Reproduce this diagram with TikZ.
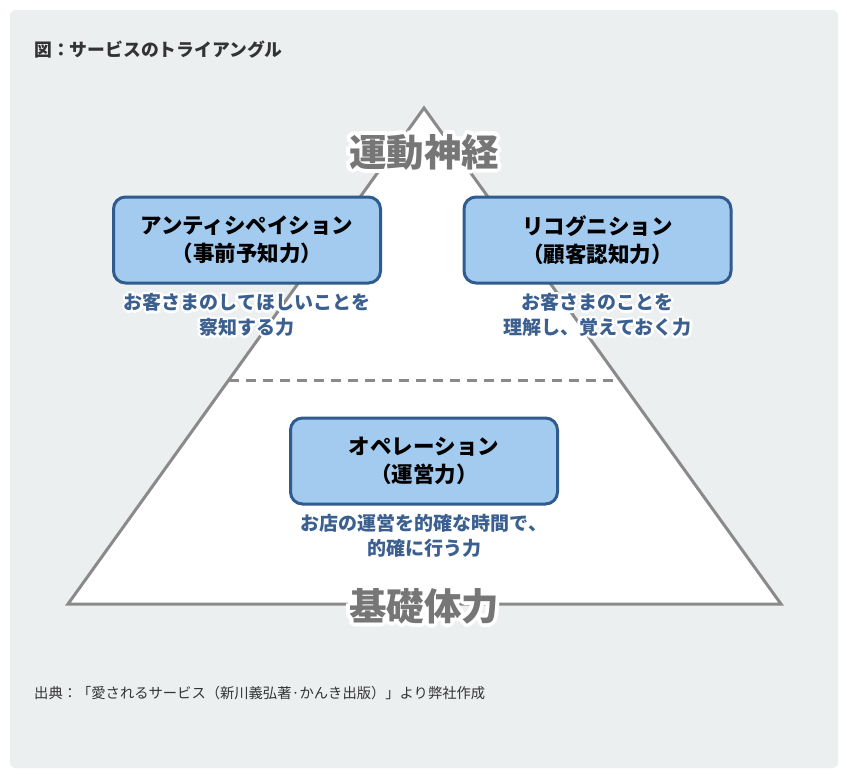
\documentclass[tikz,border=0pt]{standalone}
\usepackage{fontspec}
\setmainfont{Noto Sans CJK JP}
\usetikzlibrary{calc}
\definecolor{panel}{HTML}{ECEFF0}
\definecolor{edge}{HTML}{8A8A8A}
\definecolor{bigtxt}{HTML}{767676}
\definecolor{boxfill}{HTML}{A3CBF0}
\definecolor{boxline}{HTML}{2F5B8E}
\definecolor{desc}{HTML}{3B5F8F}
\definecolor{ink}{HTML}{333333}
\newcommand{\halotext}[5]{% #1 name, #2 position, #3 style, #4 halo radius, #5 text
  \foreach \ang in {0,30,...,330}{\node[#3,text=white] at ($(#2)+(\ang:#4)$) {#5};}
  \node[#3] (#1) at (#2) {#5};
}
\tikzset{
  blockbox/.style={draw=boxline, fill=boxfill, line width=3pt, rounded corners=12pt,
    minimum width=267pt, minimum height=86pt, align=center, text=black,
    font=\fontsize{21.5}{28}\selectfont\bfseries},
  desctext/.style={align=center, text=desc, inner sep=0pt,
    font=\fontsize{19}{25}\selectfont\bfseries},
  bigtext/.style={text=bigtxt, inner sep=0pt, font=\fontsize{37.5}{40}\selectfont\bfseries},
  edgeline/.style={draw=edge, line width=3pt},
}
\begin{document}
\begin{tikzpicture}[x=1pt, y=-1pt]
\useasboundingbox (0,0) rectangle (847,774);
\fill[white] (0,0) rectangle (847,774);
\fill[panel, rounded corners=6pt] (10,10) rectangle (838,768);
\node[anchor=west, text=ink, inner sep=0pt, font=\fontsize{17.8}{20}\selectfont\bfseries] (title) at (34,50) {図：サービスのトライアングル};
% triangle
\coordinate (apex) at (424,108);
\coordinate (bl) at (68,604);
\coordinate (br) at (781,604);
\draw[edgeline, fill=white] (apex) -- (bl) -- (br) -- cycle;
\coordinate (dl) at ($(apex)!272/496!(bl)$);
\coordinate (dr) at ($(apex)!272/496!(br)$);
\draw[edgeline, dash pattern=on 10pt off 7pt] (dl) -- (dr);
% big labels
\halotext{top}{424,152}{bigtext}{4}{運動神経}
\halotext{base}{424,606}{bigtext}{4}{基礎体力}
% boxes
\node[blockbox] (b1) at (247,240) {アンティシペイション\\（事前予知力）};
\node[blockbox] (b2) at (597.5,240) {リコグニション\\（顧客認知力）};
\node[blockbox] (b3) at (424,461) {オペレーション\\（運営力）};
% descriptions
\halotext{d1}{247,315}{desctext}{2.6}{お客さまのしてほしいことを\\察知する力}
\halotext{d2}{597.5,315}{desctext}{2.6}{お客さまのことを\\理解し、覚えておく力}
\halotext{d3}{424,536}{desctext}{2.6}{お店の運営を的確な時間で、\\的確に行う力}
% footer
\node[anchor=west, text=ink, inner sep=0pt, font=\fontsize{14.3}{16}\selectfont] (foot) at (34,693) {出典：「愛されるサービス（新川義弘著·かんき出版）」より弊社作成};
\end{tikzpicture}
\end{document}
